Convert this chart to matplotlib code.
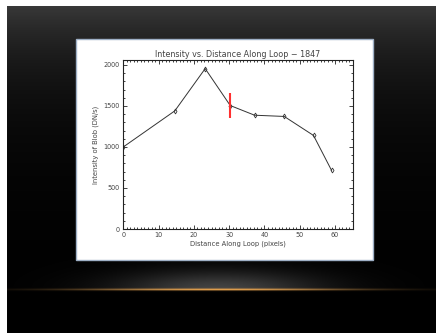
import matplotlib
matplotlib.use("Agg")
import matplotlib.pyplot as plt
from matplotlib.patches import Rectangle
from matplotlib.ticker import MultipleLocator
import numpy as np

# data
distance = [0.0, 14.6, 23.2, 30.3, 37.2, 45.6, 53.9, 59.0]
intensity = [1000, 1440, 1955, 1505, 1387, 1372, 1140, 715]
marker_x = 30.3
marker_range = [1355, 1655]

title = "Intensity vs. Distance Along Loop \u2212 1847"
xlabel = "Distance Along Loop (pixels)"
ylabel = "Intensity of Blob (DN/s)"

W, H = 436, 336
fig = plt.figure(figsize=(W / 100, H / 100), dpi=100)

# slide background: dark gradient + glow + orange line
yy, xx = np.mgrid[0:H, 0:W].astype(float)
g = 0.22 * np.exp(-(yy - 6) / 70.0)
glow = 0.26 * np.exp(-((xx - 218) / 100.0) ** 2) * np.exp(-((yy - 289) / 18.0) ** 2) * (yy <= 289)
img = np.stack([g + glow] * 3, axis=-1)
line = np.exp(-((xx - 218) / 130.0) ** 2) * np.exp(-((yy - 289) / 1.1) ** 2)
orange = np.array([0.88, 0.62, 0.3])
img = img * (1 - line[..., None]) + line[..., None] * orange
img = np.clip(img, 0, 1)
img[:, :7] = 1.0
img[:6, :] = 1.0
img[333:, :] = 1.0

ax_bg = fig.add_axes([0, 0, 1, 1])
ax_bg.imshow(img, aspect="auto", extent=[0, W, H, 0], interpolation="bilinear")
ax_bg.axis("off")

# white panel holding the plot
panel = Rectangle((76 / W, 1 - 260 / H), 297 / W, 221 / H, transform=fig.transFigure,
                  facecolor="white", edgecolor="#9fb0c6", lw=1.0, zorder=2)
fig.patches.append(panel)

ax = fig.add_axes([123.3 / W, 1 - 229 / H, 229.4 / W, 169 / H])
ax.set_zorder(3)
ax.plot(distance, intensity, color="#333333", lw=0.7, marker="d", ms=2.5,
        mfc="none", mec="#333333", mew=0.6)
ax.vlines(marker_x, marker_range[0], marker_range[1], color="#ff3030", lw=1.5)

ax.set_xlim(0, 65)
ax.set_ylim(0, 2060)
ax.xaxis.set_major_locator(MultipleLocator(10))
ax.xaxis.set_minor_locator(MultipleLocator(1))
ax.yaxis.set_major_locator(MultipleLocator(500))
ax.yaxis.set_minor_locator(MultipleLocator(100))
ax.tick_params(which="both", direction="in", top=True, right=True,
               colors="#222222", labelcolor="#444444", labelsize=4.7, width=0.6, pad=2.5)
ax.tick_params(which="major", length=3)
ax.tick_params(which="minor", length=1.5)
for s in ax.spines.values():
    s.set_linewidth(0.8)
    s.set_color("#222222")

ax.set_title(title, fontsize=5.8, color="#444444", pad=2)
ax.set_xlabel(xlabel, fontsize=4.9, color="#444444", labelpad=1.5)
ax.set_ylabel(ylabel, fontsize=4.9, color="#444444", labelpad=3)

fig.savefig("out.png", dpi=100)
